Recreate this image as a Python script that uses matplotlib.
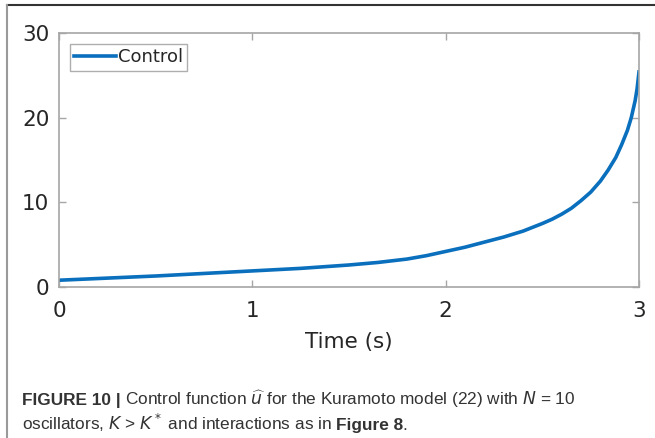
import matplotlib
matplotlib.use("Agg")
import matplotlib.pyplot as plt
from matplotlib.lines import Line2D

# Control signal samples (time in s, control value)
time_s = [0.0, 0.25, 0.5, 0.75, 1.0, 1.25, 1.5, 1.65, 1.8, 1.9, 2.0, 2.1,
          2.2, 2.3, 2.4, 2.5, 2.55, 2.6, 2.65, 2.7, 2.75, 2.8, 2.84, 2.88,
          2.91, 2.94, 2.96, 2.98, 2.99, 3.0]
control = [0.8, 1.05, 1.3, 1.6, 1.9, 2.2, 2.6, 2.9, 3.3, 3.7, 4.2, 4.7,
           5.3, 5.9, 6.6, 7.5, 8.0, 8.6, 9.3, 10.2, 11.2, 12.5, 13.8, 15.3,
           16.8, 18.5, 20.0, 22.0, 23.4, 25.4]

x_ticks = [0, 1, 2, 3]
y_ticks = [0, 10, 20, 30]
x_label = "Time (s)"
legend_label = "Control"

plt.rcParams["font.family"] = ["DejaVu Sans"]
plt.rcParams["mathtext.fontset"] = "custom"
plt.rcParams["mathtext.rm"] = "Liberation Sans Narrow"
plt.rcParams["mathtext.it"] = "Liberation Sans Narrow:italic"
plt.rcParams["mathtext.bf"] = "Liberation Sans Narrow:bold"

W, H = 655, 438
fig = plt.figure(figsize=(W / 100, H / 100), dpi=100)
ax = fig.add_axes([59 / W, 1 - 287 / H, (639 - 59) / W, (287 - 33) / H])

spine_col = "#a6a6a6"
text_col = "#262626"
ax.plot(time_s, control, color="#0a6fbd", lw=2.6, label=legend_label,
        solid_joinstyle="round")
ax.set_xlim(0, 3)
ax.set_ylim(0, 30)
ax.set_xticks(x_ticks)
ax.set_yticks(y_ticks)
for s in ax.spines.values():
    s.set_color(spine_col)
    s.set_linewidth(1.2)
ax.tick_params(direction="in", length=5, width=1, color=spine_col,
               top=True, right=True, labelsize=15.5, labelcolor=text_col)
ax.tick_params(axis="x", pad=10)
ax.tick_params(axis="y", pad=7)
ax.set_xlabel(x_label, fontsize=15.5, color=text_col, labelpad=8)

leg = ax.legend(loc="upper left", fontsize=13, frameon=True, fancybox=False,
                handlelength=2.3, handletextpad=0.1, borderpad=0.25,
                borderaxespad=0.6, edgecolor="#9a9a9a")
leg.get_frame().set_linewidth(1.0)
for t in leg.get_texts():
    t.set_color(text_col)

# outer panel border
fig.add_artist(Line2D([7 / W, 1], [1 - 5 / H, 1 - 5 / H], color="#333333",
                      lw=1.5, transform=fig.transFigure))
fig.add_artist(Line2D([7 / W, 7 / W], [0, 1 - 5 / H], color="#9a9a9a",
                      lw=1.5, transform=fig.transFigure))

# caption, written as runs of regular and bold text separated by a word gap
cap_font = ["Liberation Sans Narrow", "Liberation Sans", "DejaVu Sans"]
cap_size = 12.4
cap_col = "#333333"
gap = 4.5

line1 = [("FIGURE 10 |", "bold"),
         (r"Control function $\widehat{u}$ for the Kuramoto model (22) with $N$ = 10",
          "normal")]
line2 = [(r"oscillators, $K$ > $K^*$ and interactions as in", "normal"),
         ("Figure 8", "bold")]

renderer = fig.canvas.get_renderer()
for parts, y0 in ((line1, 405), (line2, 430)):
    x = 22.0
    for txt, weight in parts:
        t = fig.text(x / W, 1 - y0 / H, txt, fontsize=cap_size,
                     family=cap_font, fontweight=weight, color=cap_col,
                     va="baseline", ha="left")
        x = t.get_window_extent(renderer).x1 + gap
    # closing full stop right after the bold reference
    if parts is line2:
        fig.text((x - gap - 1.0) / W, 1 - y0 / H, ".", fontsize=cap_size,
                 family=cap_font, color=cap_col, va="baseline", ha="left")

fig.savefig("out.png", dpi=100)
